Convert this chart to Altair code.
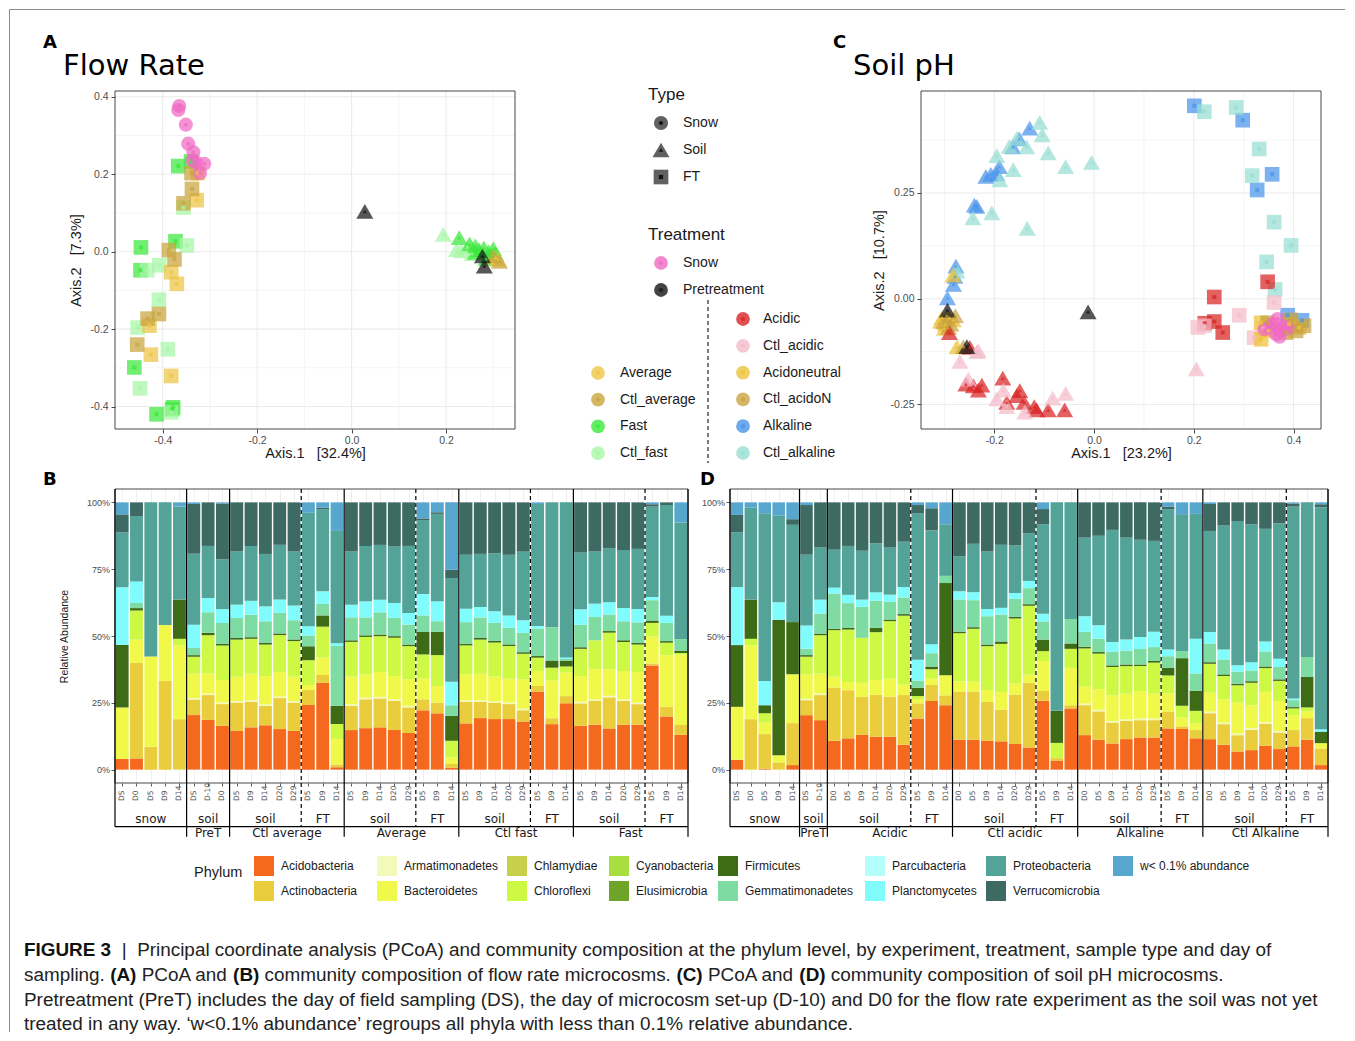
import altair as alt
import pandas as pd

# ------------------------------------------------------------------ phyla
PHYLA = ["Acidobacteria", "Actinobacteria", "Armatimonadetes", "Bacteroidetes", "Chlamydiae",
         "Chloroflexi", "Cyanobacteria", "Elusimicrobia", "Firmicutes", "Gemmatimonadetes",
         "Parcubacteria", "Planctomycetes", "Proteobacteria", "Verrucomicrobia", "w< 0.1% abundance"]
PHYLA_COLORS = ["#F4691E", "#EACD3C", "#F3F9B8", "#F0F84A", "#C7D04B",
                "#CDF844", "#A9DE40", "#6EA42A", "#3D6B16", "#7EDCA2",
                "#B3FDFB", "#80FCFD", "#53A398", "#3E6A64", "#56A6CE"]

# ------------------------------------------------------------------ panel B (flow rate)
B_DAYS = ["DS", "D0", "D5", "D9", "D14", "DS", "D-10", "D0",
          "D5", "D9", "D14", "D20", "D29", "D5", "D9", "D14",
          "D5", "D9", "D14", "D20", "D29", "D5", "D9", "D14",
          "D5", "D9", "D14", "D20", "D29", "D5", "D9", "D14",
          "D5", "D9", "D14", "D20", "D29", "D5", "D9", "D14"]
B_TYPE = ["snow"] * 5 + ["soil"] * 3 + (["soil"] * 5 + ["FT"] * 3) * 4
B_TREAT = [""] * 5 + ["PreT"] * 3 + ["Ctl average"] * 8 + ["Average"] * 8 + ["Ctl fast"] * 8 + ["Fast"] * 8

B_ACIDO = [4.0, 4.2, 0, 0, 0, 20.4, 18.6, 16.4,
           14.5, 15.8, 16.6, 15.2, 14.5, 24.2, 32.5, 0.9,
           14.8, 15.5, 15.8, 14.8, 13.7, 22.2, 21.1, 0.7,
           17.3, 19.3, 18.9, 18.9, 18.0, 29.2, 17.0, 24.8,
           16.4, 16.8, 15.4, 16.8, 16.8, 39.0, 19.9, 13.0]
B_ACTINO = [0, 35.8, 8.6, 33.2, 18.9, 5.8, 9.3, 8.1,
            10.6, 9.6, 7.2, 11.6, 10.6, 5.6, 2.9, 1.0,
            9.1, 10.8, 10.8, 10.9, 9.6, 4.1, 4.0, 1.4,
            8.1, 6.1, 6.0, 5.6, 4.2, 2.1, 2.2, 2.7,
            8.4, 8.9, 11.6, 8.9, 7.7, 0.7, 3.6, 3.7]
B_ARMAT = [0, 0, 0, 0, 0, 0.6, 0.6, 0.6,
           0.6, 0.6, 0.6, 0.6, 0.6, 0, 0, 0,
           0.6, 0.6, 0.6, 0.6, 0.6, 0, 0, 0,
           0.6, 0.6, 0.6, 0.6, 0.6, 0, 0, 0,
           0.6, 0.6, 0.6, 0.6, 0.6, 0, 0, 0]
B_BACTERO = [19.3, 8.7, 33.7, 20.9, 27.7, 9.1, 7.5, 8.4,
             9.1, 9.9, 10.6, 9.2, 9.1, 1.9, 6.5, 9.6,
             10.3, 8.7, 9.3, 8.7, 9.9, 7.7, 6.2, 2.5,
             9.7, 9.9, 9.3, 8.9, 10.9, 5.6, 14.2, 8.9,
             9.6, 11.4, 9.9, 10.6, 11.4, 10.2, 19.3, 26.3]
B_CHLORO = [0, 10.9, 0, 0, 2.4, 6.3, 14.3, 12.9,
            13.9, 13.0, 11.8, 13.8, 13.3, 9.3, 11.6, 5.6,
            13.0, 14.0, 13.4, 14.3, 12.4, 9.1, 11.6, 6.2,
            10.8, 12.8, 12.7, 12.2, 9.6, 5.0, 4.7, 2.2,
            10.2, 10.7, 13.7, 10.9, 10.3, 5.0, 4.7, 0.6]
B_FIRMI = [23.4, 0.9, 0, 0, 14.7, 0.6, 0.9, 0.6,
           0.6, 0.6, 0.6, 0.6, 0.6, 5.2, 4.2, 6.8,
           0.6, 0.6, 0.6, 0.6, 0.6, 8.4, 8.7, 9.3,
           0.6, 0.6, 0.6, 0.6, 0.6, 0.6, 2.7, 2.2,
           0.6, 0, 0.6, 0.6, 0.6, 0.9, 0.6, 0.9]
B_GEMMA = [0, 1.9, 0, 0, 0, 2.7, 7.7, 7.8,
           7.5, 8.4, 8.1, 7.7, 7.2, 4.0, 4.3, 22.4,
           8.6, 6.7, 8.3, 6.8, 7.5, 6.2, 4.0, 4.0,
           8.1, 7.7, 6.8, 6.2, 7.2, 10.3, 12.4, 0.6,
           8.4, 8.7, 6.2, 7.1, 7.7, 7.6, 6.8, 4.3]
B_PLANCTO = [21.6, 8.1, 0, 0, 0, 8.7, 5.3, 5.2,
             5.0, 5.2, 5.6, 5.0, 5.5, 3.5, 4.7, 1.0,
             4.7, 6.0, 4.7, 5.6, 4.3, 8.0, 7.5, 8.8,
             5.0, 3.9, 4.3, 4.6, 4.7, 0.9, 0, 0.6,
             5.8, 5.0, 4.6, 5.0, 5.0, 1.2, 2.7, 0]
B_PROTEO = [20.6, 24.5, 57.7, 45.9, 34.8, 26.5, 19.5, 18.6,
            19.9, 20.5, 19.6, 20.5, 20.2, 42.5, 30.7, 42.1,
            19.9, 20.7, 20.5, 21.1, 25.1, 27.7, 32.7, 38.8,
            20.2, 19.9, 21.7, 22.7, 25.7, 45.7, 46.7, 58.0,
            21.2, 19.5, 20.2, 21.7, 22.5, 33.8, 41.4, 43.6]
B_VERRUCO = [6.7, 5.1, 0, 0, 0, 18.6, 16.3, 20.9,
             18.4, 16.3, 19.3, 15.9, 18.4, 0, 0.6, 0,
             18.4, 16.3, 15.9, 16.5, 16.3, 0.6, 0.6, 3.1,
             19.6, 19.3, 19.0, 19.6, 18.4, 0, 0, 0,
             18.8, 18.4, 17.1, 17.8, 17.4, 0.9, 1.0, 0]
B_OTHER = [4.5, 0, 0, 0, 1.6, 0.6, 0, 0.4,
           0, 0, 0, 0, 0, 3.9, 2.0, 10.7,
           0, 0, 0, 0, 0, 6.0, 3.7, 25.2,
           0, 0, 0, 0, 0, 0.6, 0, 0,
           0, 0, 0, 0, 0, 0.7, 0, 7.5]

# ------------------------------------------------------------------ panel D (soil pH)
D_DAYS = ["DS", "D0", "D5", "D9", "D14", "DS", "D-10"] + \
         ["D0", "D5", "D9", "D14", "D20", "D29", "D5", "D9", "D14"] * 4
D_TYPE = ["snow"] * 5 + ["soil"] * 2 + (["soil"] * 6 + ["FT"] * 3) * 4
D_TREAT = [""] * 5 + ["PreT"] * 2 + ["Acidic"] * 9 + ["Ctl acidic"] * 9 + ["Alkaline"] * 9 + ["Ctl Alkaline"] * 9

D_ACIDO = [3.7, 0, 0.3, 0, 1.7, 20.4, 18.5,
           10.8, 11.7, 13.0, 12.3, 12.3, 9.3, 19.1, 25.7, 24.1,
           11.2, 11.2, 10.8, 10.6, 9.6, 8.3, 25.7, 3.4, 22.9,
           12.9, 11.2, 9.8, 11.4, 12.0, 12.0, 15.4, 15.2, 11.7,
           11.4, 9.3, 6.8, 7.3, 8.9, 7.7, 8.7, 11.2, 1.7]
D_ACTINO = [0, 18.9, 13.0, 2.7, 15.7, 5.6, 9.4,
            19.9, 18.0, 14.2, 15.7, 15.0, 18.6, 5.7, 6.0, 3.7,
            17.9, 18.0, 14.5, 11.8, 18.4, 24.2, 3.7, 0.9, 1.2,
            11.2, 10.6, 7.8, 6.8, 6.5, 6.5, 6.3, 1.0, 3.1,
            9.7, 7.7, 6.1, 7.6, 8.3, 6.2, 6.1, 8.1, 6.2]
D_ARMAT = [0, 0, 0, 0, 0, 0.6, 0.6,
           0, 0, 0, 0, 0, 0, 0, 0, 0,
           0, 0, 0, 0, 0, 0, 0, 0, 0,
           0.6, 0.6, 0.6, 0.6, 0.6, 0.6, 0, 0, 0,
           0.6, 0.6, 0.6, 0.6, 0.6, 0.6, 0, 0, 0]
D_BACTERO = [19.8, 27.7, 4.3, 2.7, 18.3, 9.1, 7.5,
             4.1, 3.1, 5.3, 5.6, 6.7, 4.0, 1.5, 2.5, 7.5,
             3.9, 3.7, 4.5, 6.7, 4.2, 3.1, 11.2, 0, 14.0,
             6.3, 7.7, 9.6, 9.6, 10.3, 9.3, 6.8, 3.4, 2.6,
             7.1, 8.7, 11.6, 8.6, 11.3, 11.2, 5.6, 2.5, 2.0]
D_CHLORO = [0, 2.4, 3.5, 0, 0, 6.6, 14.3,
            17.4, 19.6, 16.8, 17.9, 21.5, 25.7, 1.2, 3.4, 0,
            18.0, 19.8, 16.4, 18.0, 24.3, 25.7, 3.7, 5.7, 7.1,
            14.3, 13.3, 10.6, 10.3, 9.3, 11.6, 6.7, 4.3, 4.6,
            10.8, 8.7, 6.5, 8.4, 8.9, 7.5, 2.5, 1.5, 0]
D_FIRMI = [23.1, 14.7, 3.0, 50.7, 19.5, 0.6, 0.6,
           0.5, 0.6, 0, 1.6, 0.6, 0.6, 3.1, 1.0, 34.5,
           0.6, 0.6, 0.6, 0.9, 0.6, 0.6, 4.3, 12.0, 2.0,
           0.6, 0.6, 0.6, 0.6, 0.6, 0.6, 2.9, 17.8, 7.5,
           0.6, 0.6, 0.6, 0.6, 0.6, 0.6, 0.5, 11.4, 4.3]
D_GEMMA = [0, 0, 0, 0, 0, 2.4, 7.5,
           13.2, 9.3, 11.6, 10.2, 6.6, 6.2, 2.7, 5.0, 2.7,
           12.0, 10.1, 10.6, 10.1, 6.7, 6.0, 6.8, 0, 9.2,
           5.6, 5.0, 5.1, 5.2, 5.8, 5.2, 4.3, 2.7, 6.5,
           7.0, 5.6, 4.5, 4.0, 5.6, 4.6, 2.6, 7.5, 0]
D_PLANCTO = [21.7, 0, 9.1, 6.5, 0, 8.7, 5.2,
             2.2, 3.1, 2.7, 3.1, 2.7, 3.9, 7.8, 3.4, 0,
             3.1, 3.0, 2.7, 2.5, 2.2, 2.7, 2.9, 0, 0,
             5.8, 5.0, 3.7, 4.1, 4.5, 5.7, 2.5, 0, 13.0,
             4.3, 3.7, 2.4, 3.1, 3.7, 3.1, 0.6, 0, 0.9]
D_PROTEO = [20.5, 34.4, 62.7, 32.4, 36.4, 26.5, 19.5,
            14.2, 18.3, 18.3, 18.4, 17.6, 17.0, 54.7, 42.6, 19.3,
            13.0, 18.1, 21.5, 23.6, 17.8, 17.8, 33.4, 78.0, 43.6,
            29.4, 33.5, 41.9, 38.1, 36.3, 34.0, 52.4, 50.9, 46.7,
            37.8, 46.3, 54.0, 51.6, 42.2, 50.7, 71.8, 57.9, 83.0]
D_VERRUCO = [6.5, 0, 0, 0, 2.1, 18.6, 16.9,
             17.7, 16.3, 18.1, 15.3, 16.9, 14.7, 3.1, 8.3, 0,
             20.2, 15.5, 18.4, 15.9, 16.1, 11.6, 5.7, 0, 0,
             13.2, 12.5, 10.3, 13.2, 14.0, 14.4, 1.0, 0, 0,
             10.1, 8.7, 7.0, 8.2, 9.9, 7.8, 1.2, 0, 1.1]
D_OTHER = [4.7, 2.0, 4.1, 5.0, 6.3, 1.0, 0,
           0, 0, 0, 0, 0, 0, 1.0, 2.2, 8.2,
           0, 0, 0, 0, 0, 0, 2.5, 0, 0,
           0, 0, 0, 0, 0, 0, 1.6, 4.7, 4.3,
           0.6, 0, 0, 0, 0, 0, 0.4, 0, 0.7]

# ------------------------------------------------------------------ PCoA treatments
TREATMENTS = ["Snow", "Pretreatment", "Average", "Ctl_average", "Fast", "Ctl_fast",
              "Acidic", "Ctl_acidic", "Acidoneutral", "Ctl_acidoN", "Alkaline", "Ctl_alkaline"]
TREAT_COLORS = ["#F06AC4", "#151515", "#EEC545", "#C9A53E", "#3BE83B", "#A6F7A6",
                "#DA2424", "#F4BCCB", "#EEC238", "#C9A440", "#4A94EA", "#97DED2"]
TYPES = ["Snow", "Soil", "FT"]

# panel A points
A_SNOW_X = [-0.365, -0.367, -0.351, -0.346, -0.335, -0.330, -0.312, -0.321, -0.337]
A_SNOW_Y = [0.376, 0.366, 0.328, 0.279, 0.257, 0.231, 0.227, 0.203, 0.236]
A_PRET_X = [0.028, 0.277, 0.281]
A_PRET_Y = [0.104, -0.011, -0.037]
A_FT_FAST_X = [-0.367, -0.340, -0.446, -0.447, -0.373, -0.460, -0.413, -0.380, -0.378]
A_FT_FAST_Y = [0.221, 0.233, 0.011, -0.048, 0.027, -0.299, -0.420, -0.407, -0.402]
A_FT_CTLFAST_X = [-0.356, -0.349, -0.433, -0.407, -0.408, -0.453, -0.389, -0.448, -0.382]
A_FT_CTLFAST_Y = [0.114, 0.016, -0.048, -0.035, -0.124, -0.196, -0.252, -0.353, -0.415]
A_FT_AVG_X = [-0.328, -0.382, -0.370, -0.428, -0.425, -0.382, -0.326]
A_FT_AVG_Y = [0.133, -0.053, -0.083, -0.191, -0.266, -0.321, 0.203]
A_FT_CTLAVG_X = [-0.338, -0.356, -0.387, -0.375, -0.432, -0.408, -0.454, -0.339]
A_FT_CTLAVG_Y = [0.162, 0.125, 0.004, -0.020, -0.173, -0.161, -0.240, 0.203]
A_SOIL_CTLFAST_X = [0.194, 0.222, 0.232, 0.245, 0.255]
A_SOIL_CTLFAST_Y = [0.045, 0.005, 0.002, 0.012, -0.005]
A_SOIL_FAST_X = [0.228, 0.250, 0.262, 0.270, 0.280, 0.290, 0.300, 0.295, 0.305, 0.262, 0.285]
A_SOIL_FAST_Y = [0.036, 0.020, 0.015, 0.005, 0.010, 0.000, 0.008, -0.012, -0.005, -0.002, -0.018]
A_SOIL_AVG_X = [0.311, 0.305]
A_SOIL_AVG_Y = [-0.020, -0.015]
A_SOIL_CTLAVG_X = [0.313, 0.300]
A_SOIL_CTLAVG_Y = [-0.025, -0.010]

# panel C points
C_SNOW_X = [0.342, 0.358, 0.368, 0.375, 0.380, 0.365, 0.388, 0.352, 0.372]
C_SNOW_Y = [-0.072, -0.060, -0.048, -0.076, -0.066, -0.084, -0.070, -0.068, -0.090]
C_PRET_X = [-0.012, -0.294, -0.255]
C_PRET_Y = [-0.031, -0.027, -0.113]
C_FT_ALK_X = [0.201, 0.298, 0.357, 0.327, 0.388, 0.417]
C_FT_ALK_Y = [0.456, 0.422, 0.294, 0.257, -0.039, -0.051]
C_FT_CTLALK_X = [0.221, 0.285, 0.331, 0.317, 0.361, 0.395, 0.346, 0.363]
C_FT_CTLALK_Y = [0.442, 0.452, 0.354, 0.291, 0.181, 0.126, 0.087, 0.022]
C_FT_ACID_X = [0.348, 0.241, 0.241, 0.258, 0.222]
C_FT_ACID_Y = [0.040, 0.004, -0.054, -0.080, -0.058]
C_FT_CTLACID_X = [0.361, 0.291, 0.208, 0.221, 0.321, 0.340]
C_FT_CTLACID_Y = [-0.009, -0.039, -0.068, -0.064, -0.092, -0.070]
C_FT_NEUT_X = [0.335, 0.335, 0.391, 0.411, 0.350]
C_FT_NEUT_Y = [-0.057, -0.096, -0.060, -0.068, -0.075]
C_FT_CTLNEUT_X = [0.348, 0.405, 0.385, 0.421, 0.395]
C_FT_CTLNEUT_Y = [-0.057, -0.076, -0.080, -0.064, -0.050]
C_SOIL_ALK_X = [-0.277, -0.279, -0.282, -0.294, -0.240, -0.235, -0.217, -0.207, -0.190, -0.195, -0.163, -0.150, -0.129]
C_SOIL_ALK_Y = [0.077, 0.053, 0.034, 0.002, 0.221, 0.218, 0.289, 0.294, 0.312, 0.295, 0.359, 0.378, 0.403]
C_SOIL_CTLALK_X = [-0.109, -0.104, -0.092, -0.057, -0.005, -0.135, -0.162, -0.189, -0.195, -0.205, -0.243, -0.134, -0.155, -0.170, -0.275]
C_SOIL_CTLALK_Y = [0.417, 0.387, 0.345, 0.312, 0.322, 0.359, 0.305, 0.281, 0.338, 0.203, 0.191, 0.166, 0.379, 0.360, 0.065]
C_SOIL_NEUT_X = [-0.283, -0.305, -0.298, -0.308, -0.290, -0.282, -0.275, -0.300]
C_SOIL_NEUT_Y = [0.056, -0.045, -0.060, -0.053, -0.045, -0.050, -0.114, -0.070]
C_SOIL_CTLNEUT_X = [-0.295, -0.302, -0.287, -0.278, -0.292, -0.262]
C_SOIL_CTLNEUT_Y = [-0.040, -0.055, -0.060, -0.040, -0.068, -0.113]
C_SOIL_ACID_X = [-0.290, -0.249, -0.257, -0.242, -0.225, -0.232, -0.183, -0.149, -0.155, -0.175, -0.115, -0.092, -0.059, -0.140, -0.120]
C_SOIL_ACID_Y = [-0.080, -0.115, -0.202, -0.206, -0.204, -0.216, -0.188, -0.217, -0.229, -0.245, -0.263, -0.263, -0.263, -0.245, -0.255]
C_SOIL_CTLACID_X = [-0.232, -0.269, -0.252, -0.182, -0.195, -0.175, -0.139, -0.083, -0.057, 0.205, -0.235]
C_SOIL_CTLACID_Y = [-0.123, -0.148, -0.190, -0.216, -0.237, -0.255, -0.268, -0.235, -0.224, -0.166, -0.125]

# ------------------------------------------------------------------ caption text
CAP_LINES = [
    [("FIGURE 3", True), ("  |  ", False),
     ("Principal coordinate analysis (PCoA) and community composition at the phylum level, by experiment, "
      "treatment, sample type and day of", False)],
    [("sampling. ", False), ("(A)", True), (" PCoA and ", False), ("(B)", True),
     (" community composition of flow rate microcosms. ", False), ("(C)", True), (" PCoA and ", False),
     ("(D)", True), (" community composition of soil pH microcosms.", False)],
    [("Pretreatment (PreT) includes the day of field sampling (DS), the day of microcosm set-up (D-10) "
      "and D0 for the flow rate experiment as the soil was not yet", False)],
    [("treated in any way. \u2018w<0.1% abundance\u2019 regroups all phyla with less than 0.1% relative abundance.", False)],
]

# ================================================================== layout / style (not data)
ROW1_W, ROW1_H = 1206, 338
ROW2_W, ROW2_H = 1213, 294
ROW3_W, ROW3_H = 1100, 60
GRAY_TXT = "#4D4D4D"
PCOL = dict(zip(PHYLA, PHYLA_COLORS))
TCOL = dict(zip(TREATMENTS, TREAT_COLORS))
SHAPE = {"Snow": "circle", "Soil": "triangle-up", "FT": "square"}
SIZE = {"Snow": 200, "Soil": 290, "FT": 215}
MINUS = "\u2212"


def lab_expr(fmt):
    return f"replace(format(datum.value, '{fmt}'), '{MINUS}', '-')"


def pts_df(groups):
    rows = []
    for typ, trt, xs, ys in groups:
        assert len(xs) == len(ys)
        for x, y in zip(xs, ys):
            rows.append({"x": x, "y": y, "shape": SHAPE[typ], "size": SIZE[typ], "col": TCOL[trt]})
    return pd.DataFrame(rows)


def pcoa(groups, xdom, ydom, xt, yt, xminor, yminor, xfmt, yfmt, xtitle, ytitle, x0, w, ytpad):
    xs = alt.Scale(domain=xdom, range=[x0, x0 + w], nice=False, zero=False)
    ys = alt.Scale(domain=ydom, range=[ROW1_H, 0], nice=False, zero=False)
    df = pts_df(groups)

    def vrules(vals, sw):
        d = pd.DataFrame({"v": vals, "a": [ydom[0]] * len(vals), "b": [ydom[1]] * len(vals)})
        return alt.Chart(d).mark_rule(color="#EBEBEB", strokeWidth=sw).encode(
            x=alt.X("v:Q", scale=xs, axis=None), y=alt.Y("a:Q", scale=ys, axis=None), y2="b:Q")

    def hrules(vals, sw):
        d = pd.DataFrame({"v": vals, "a": [xdom[0]] * len(vals), "b": [xdom[1]] * len(vals)})
        return alt.Chart(d).mark_rule(color="#EBEBEB", strokeWidth=sw).encode(
            y=alt.Y("v:Q", scale=ys, axis=None), x=alt.X("a:Q", scale=xs, axis=None), x2="b:Q")

    xaxis = alt.Axis(orient="bottom", values=xt, labelExpr=lab_expr(xfmt), grid=False, domain=False,
                     tickColor="#333333", tickSize=4, tickWidth=0.9, labelFontSize=10.5, labelColor=GRAY_TXT,
                     labelPadding=2, title=xtitle, titleFontSize=14.5, titleFontWeight="normal",
                     titleColor="#1A1A1A", titlePadding=1)
    yaxis = alt.Axis(orient="left", offset=-x0, values=yt, labelExpr=lab_expr(yfmt), grid=False, domain=False,
                     tickColor="#333333", tickSize=4, tickWidth=0.9, labelFontSize=10.5, labelColor=GRAY_TXT,
                     labelPadding=3, title=ytitle, titleFontSize=14.5, titleFontWeight="normal",
                     titleColor="#1A1A1A", titlePadding=ytpad)
    pts = alt.Chart(df).mark_point(filled=True, opacity=0.72, strokeWidth=0).encode(
        x=alt.X("x:Q", scale=xs, axis=xaxis), y=alt.Y("y:Q", scale=ys, axis=yaxis),
        shape=alt.Shape("shape:N", scale=None), color=alt.Color("col:N", scale=None),
        size=alt.Size("size:Q", scale=None))
    dots = alt.Chart(df).mark_point(filled=True, opacity=0.75, strokeWidth=0, size=16).encode(
        x=alt.X("x:Q", scale=xs, axis=None), y=alt.Y("y:Q", scale=ys, axis=None),
        shape=alt.Shape("shape:N", scale=None), color=alt.Color("col:N", scale=None))
    box = alt.Chart(pd.DataFrame({"a": [xdom[0]], "b": [xdom[1]], "c": [ydom[0]], "d": [ydom[1]]})).mark_rect(
        fillOpacity=0, stroke="#333333", strokeWidth=0.9).encode(
        x=alt.X("a:Q", scale=xs, axis=None), x2="b:Q", y=alt.Y("c:Q", scale=ys, axis=None), y2="d:Q")
    return [vrules(xminor, 0.55), hrules(yminor, 0.55), vrules(xt, 1.1), hrules(yt, 1.1), pts, dots, box]


A_GROUPS = [("FT", "Fast", A_FT_FAST_X, A_FT_FAST_Y), ("FT", "Ctl_fast", A_FT_CTLFAST_X, A_FT_CTLFAST_Y),
            ("FT", "Average", A_FT_AVG_X, A_FT_AVG_Y), ("FT", "Ctl_average", A_FT_CTLAVG_X, A_FT_CTLAVG_Y),
            ("Soil", "Ctl_fast", A_SOIL_CTLFAST_X, A_SOIL_CTLFAST_Y), ("Soil", "Fast", A_SOIL_FAST_X, A_SOIL_FAST_Y),
            ("Soil", "Average", A_SOIL_AVG_X, A_SOIL_AVG_Y), ("Soil", "Ctl_average", A_SOIL_CTLAVG_X, A_SOIL_CTLAVG_Y),
            ("Snow", "Snow", A_SNOW_X, A_SNOW_Y), ("Soil", "Pretreatment", A_PRET_X, A_PRET_Y)]
C_GROUPS = [("FT", "Alkaline", C_FT_ALK_X, C_FT_ALK_Y), ("FT", "Ctl_alkaline", C_FT_CTLALK_X, C_FT_CTLALK_Y),
            ("FT", "Acidic", C_FT_ACID_X, C_FT_ACID_Y), ("FT", "Ctl_acidic", C_FT_CTLACID_X, C_FT_CTLACID_Y),
            ("FT", "Acidoneutral", C_FT_NEUT_X, C_FT_NEUT_Y), ("FT", "Ctl_acidoN", C_FT_CTLNEUT_X, C_FT_CTLNEUT_Y),
            ("Soil", "Alkaline", C_SOIL_ALK_X, C_SOIL_ALK_Y), ("Soil", "Ctl_alkaline", C_SOIL_CTLALK_X, C_SOIL_CTLALK_Y),
            ("Soil", "Acidoneutral", C_SOIL_NEUT_X, C_SOIL_NEUT_Y), ("Soil", "Ctl_acidoN", C_SOIL_CTLNEUT_X, C_SOIL_CTLNEUT_Y),
            ("Soil", "Acidic", C_SOIL_ACID_X, C_SOIL_ACID_Y), ("Soil", "Ctl_acidic", C_SOIL_CTLACID_X, C_SOIL_CTLACID_Y),
            ("Snow", "Snow", C_SNOW_X, C_SNOW_Y), ("Soil", "Pretreatment", C_PRET_X, C_PRET_Y)]

NB = "\u00a0"
layers_a = pcoa(A_GROUPS, [-0.501, 0.346], [-0.458, 0.415], [-0.4, -0.2, 0.0, 0.2], [-0.4, -0.2, 0.0, 0.2, 0.4],
                [-0.3, -0.1, 0.1, 0.3], [-0.3, -0.1, 0.1, 0.3], ".1f", ".1f",
                f"Axis.1{NB*3}[32.4%]", f"Axis.2{NB*3}[7.3%]", 0, 400, 6)
layers_c = pcoa(C_GROUPS, [-0.347, 0.455], [-0.308, 0.491], [-0.2, 0.0, 0.2, 0.4], [-0.25, 0.0, 0.25],
                [-0.3, -0.1, 0.1, 0.3], [-0.125, 0.125, 0.375], ".1f", ".2f",
                f"Axis.1{NB*3}[23.2%]", f"Axis.2{NB*3}[10.7%]", 806, 400, 4)

# ---------------- row-1 legend / titles (identity pixel scales)
LX = alt.Scale(domain=[0, ROW1_W], range=[0, ROW1_W], nice=False, zero=False)
LY = alt.Scale(domain=[0, ROW1_H], range=[0, ROW1_H], nice=False, zero=False)


def ltext(df, **kw):
    return alt.Chart(df).mark_text(**kw).encode(
        x=alt.X("px:Q", scale=LX, axis=None), y=alt.Y("py:Q", scale=LY, axis=None), text="t:N")


leg_titles = pd.DataFrame({"t": ["Type", "Treatment"], "px": [533, 533], "py": [9, 149]})
sym_rows, lab_rows = [], []
for i, t in enumerate(TYPES):
    sym_rows.append({"px": 546, "py": 32 + 27 * i, "shape": SHAPE[t], "size": SIZE[t], "col": "#3A3A3A", "dot": "#000000"})
    lab_rows.append({"px": 568, "py": 32 + 27 * i, "t": t})
TR_TOP = TREATMENTS[:2]
TR_LEFT = TREATMENTS[2:6]
TR_RIGHT = TREATMENTS[6:]
for i, t in enumerate(TR_TOP):
    sym_rows.append({"px": 546, "py": 172 + 27 * i, "shape": "circle", "size": 190, "col": TCOL[t], "dot": TCOL[t]})
    lab_rows.append({"px": 568, "py": 172 + 27 * i, "t": t})
for i, t in enumerate(TR_LEFT):
    sym_rows.append({"px": 483, "py": 282 + 26.7 * i, "shape": "circle", "size": 190, "col": TCOL[t], "dot": TCOL[t]})
    lab_rows.append({"px": 505, "py": 282 + 26.7 * i, "t": t})
for i, t in enumerate(TR_RIGHT):
    sym_rows.append({"px": 628, "py": 228 + 26.8 * i, "shape": "circle", "size": 190, "col": TCOL[t], "dot": TCOL[t]})
    lab_rows.append({"px": 648, "py": 228 + 26.8 * i, "t": t})
sym_df = pd.DataFrame(sym_rows)
lab_df = pd.DataFrame(lab_rows)

leg_syms = alt.Chart(sym_df).mark_point(filled=True, opacity=0.8, strokeWidth=0).encode(
    x=alt.X("px:Q", scale=LX, axis=None), y=alt.Y("py:Q", scale=LY, axis=None),
    shape=alt.Shape("shape:N", scale=None), color=alt.Color("col:N", scale=None), size=alt.Size("size:Q", scale=None))
leg_dots = alt.Chart(sym_df).mark_point(filled=True, opacity=0.8, strokeWidth=0, size=18).encode(
    x=alt.X("px:Q", scale=LX, axis=None), y=alt.Y("py:Q", scale=LY, axis=None),
    shape=alt.Shape("shape:N", scale=None), color=alt.Color("dot:N", scale=None))
leg_dash = alt.Chart(pd.DataFrame({"px": [593], "a": [209], "b": [372]})).mark_rule(
    color="#222222", strokeWidth=1.2, strokeDash=[4, 3]).encode(
    x=alt.X("px:Q", scale=LX, axis=None), y=alt.Y("a:Q", scale=LY, axis=None), y2="b:Q")
letters1 = pd.DataFrame({"t": ["A", "C"], "px": [-72, 718], "py": [-43, -43]})
titles1 = pd.DataFrame({"t": ["Flow Rate", "Soil pH"], "px": [-52, 738], "py": [-16, -16]})

layers_leg = [
    leg_syms, leg_dots, leg_dash,
    ltext(leg_titles, align="left", baseline="alphabetic", fontSize=17, font="Liberation Sans", color="#1A1A1A"),
    ltext(lab_df, align="left", baseline="middle", fontSize=14, font="Liberation Sans", color="#1A1A1A"),
    ltext(letters1, align="left", baseline="alphabetic", fontSize=18, fontWeight="bold", font="DejaVu Sans", color="black"),
    ltext(titles1, align="left", baseline="alphabetic", fontSize=29, font="DejaVu Sans", color="black"),
]

row1 = alt.layer(*layers_a, *layers_c, *layers_leg).resolve_scale(x="independent", y="independent").properties(
    width=ROW1_W, height=ROW1_H)

# ---------------- row 2: stacked bars
Y_DAYLAB = -0.117
Y_STRIP1 = -0.185
Y_STRIP1_BOTTOM = -0.2135
Y_STRIP2 = -0.237
Y_STRIP2_BOTTOM = -0.251


def bars_panel(days, types, treats, vals, x0, w, letter, letter_x, ytitle):
    n = len(days)
    for p, v in vals.items():
        assert len(v) == n, (p, len(v), n)
    assert len(types) == n and len(treats) == n
    xs = alt.Scale(domain=[-0.5, n - 0.5], range=[x0, x0 + w], nice=False, zero=False)
    ys = alt.Scale(domain=[-0.05, 1.05], range=[ROW2_H, 0], nice=False, zero=False)
    rows = []
    for i in range(n):
        tot = sum(vals[p][i] for p in vals)
        cum = 0.0
        for p in PHYLA:
            if p in vals and vals[p][i] > 0:
                v = vals[p][i]
                rows.append({"x0": i - 0.45, "x1": i + 0.45, "y0": cum / tot, "y1": (cum + v) / tot, "col": PCOL[p]})
                cum += v
    df = pd.DataFrame(rows)
    xaxis = alt.Axis(orient="bottom", values=list(range(n)), labels=False, ticks=True, tickSize=3,
                     tickColor="#333333", tickWidth=0.8, grid=True, gridColor="#EBEBEB", gridWidth=0.8,
                     domain=False, title=None)
    yaxis = alt.Axis(orient="left", offset=-x0, values=[0, 0.25, 0.5, 0.75, 1.0], format=".0%",
                     labelFontSize=9, labelColor=GRAY_TXT, labelPadding=1.5, tickSize=4, tickColor="#333333",
                     tickWidth=0.8, grid=False, domain=False, title=ytitle, titleFontSize=10.5,
                     titleFontWeight="normal", titleColor="#1A1A1A", titlePadding=17)
    bars = alt.Chart(df).mark_rect().encode(
        x=alt.X("x0:Q", scale=xs, axis=xaxis), x2="x1:Q",
        y=alt.Y("y0:Q", scale=ys, axis=yaxis), y2="y1:Q", color=alt.Color("col:N", scale=None))
    box = alt.Chart(pd.DataFrame({"a": [-0.5], "b": [n - 0.5], "c": [-0.05], "d": [1.05]})).mark_rect(
        fillOpacity=0, stroke="#333333", strokeWidth=0.9).encode(
        x=alt.X("a:Q", scale=xs, axis=None), x2="b:Q", y=alt.Y("c:Q", scale=ys, axis=None), y2="d:Q")

    solid, dashed = [], []
    for i in range(1, n):
        if treats[i] != treats[i - 1]:
            solid.append(i - 0.5)
        elif types[i] != types[i - 1]:
            dashed.append(i - 0.5)
    sx = [-0.5] + solid + [n - 0.5]
    sdf = pd.DataFrame({"x": sx, "a": [1.05] * len(sx), "b": [Y_STRIP1_BOTTOM] + [Y_STRIP2_BOTTOM] * (len(sx) - 1)})
    ddf = pd.DataFrame({"x": dashed, "a": [1.05] * len(dashed), "b": [Y_STRIP1_BOTTOM] * len(dashed)})
    srules = alt.Chart(sdf).mark_rule(color="black", strokeWidth=1.2).encode(
        x=alt.X("x:Q", scale=xs, axis=None), y=alt.Y("a:Q", scale=ys, axis=None), y2="b:Q")
    drules = alt.Chart(ddf).mark_rule(color="black", strokeWidth=1.2, strokeDash=[4, 3]).encode(
        x=alt.X("x:Q", scale=xs, axis=None), y=alt.Y("a:Q", scale=ys, axis=None), y2="b:Q")
    hrule = alt.Chart(pd.DataFrame({"a": [-0.5], "b": [n - 0.5], "y": [Y_STRIP1_BOTTOM]})).mark_rule(
        color="black", strokeWidth=1.2).encode(
        x=alt.X("a:Q", scale=xs, axis=None), x2="b:Q", y=alt.Y("y:Q", scale=ys, axis=None))

    day_df = pd.DataFrame({"x": list(range(n)), "y": [Y_DAYLAB] * n, "t": days})
    day_txt = alt.Chart(day_df).mark_text(angle=270, align="left", baseline="middle", fontSize=7.5,
                                          font="DejaVu Sans", color=GRAY_TXT).encode(
        x=alt.X("x:Q", scale=xs, axis=None), y=alt.Y("y:Q", scale=ys, axis=None), text="t:N")

    r1, r2 = [], []
    start = 0
    for i in range(1, n + 1):
        if i == n or (types[i], treats[i]) != (types[start], treats[start]):
            r1.append({"x": (start + i - 1) / 2, "y": Y_STRIP1, "t": types[start]})
            start = i
    start = 0
    for i in range(1, n + 1):
        if i == n or treats[i] != treats[start]:
            if treats[start]:
                r2.append({"x": (start + i - 1) / 2, "y": Y_STRIP2, "t": treats[start]})
            start = i
    strip1 = alt.Chart(pd.DataFrame(r1)).mark_text(fontSize=12, font="DejaVu Sans", color="#1A1A1A",
                                                   baseline="middle").encode(
        x=alt.X("x:Q", scale=xs, axis=None), y=alt.Y("y:Q", scale=ys, axis=None), text="t:N")
    strip2 = alt.Chart(pd.DataFrame(r2)).mark_text(fontSize=12, font="DejaVu Sans", color="#1A1A1A",
                                                   baseline="middle").encode(
        x=alt.X("x:Q", scale=xs, axis=None), y=alt.Y("y:Q", scale=ys, axis=None), text="t:N")
    let = alt.Chart(pd.DataFrame({"t": [letter]})).mark_text(
        align="left", baseline="alphabetic", fontSize=18, fontWeight="bold", font="DejaVu Sans", color="black").encode(
        x=alt.value(letter_x), y=alt.value(-4), text="t:N")
    return [bars, box, srules, drules, hrule, day_txt, strip1, strip2, let]


B_VALS = {"Acidobacteria": B_ACIDO, "Actinobacteria": B_ACTINO, "Armatimonadetes": B_ARMAT,
          "Bacteroidetes": B_BACTERO, "Chloroflexi": B_CHLORO, "Firmicutes": B_FIRMI,
          "Gemmatimonadetes": B_GEMMA, "Planctomycetes": B_PLANCTO, "Proteobacteria": B_PROTEO,
          "Verrucomicrobia": B_VERRUCO, "w< 0.1% abundance": B_OTHER}
D_VALS = {"Acidobacteria": D_ACIDO, "Actinobacteria": D_ACTINO, "Armatimonadetes": D_ARMAT,
          "Bacteroidetes": D_BACTERO, "Chloroflexi": D_CHLORO, "Firmicutes": D_FIRMI,
          "Gemmatimonadetes": D_GEMMA, "Planctomycetes": D_PLANCTO, "Proteobacteria": D_PROTEO,
          "Verrucomicrobia": D_VERRUCO, "w< 0.1% abundance": D_OTHER}

layers_b = bars_panel(B_DAYS, B_TYPE, B_TREAT, B_VALS, 0, 573, "B", -72, "Relative Abundance")
layers_d = bars_panel(D_DAYS, D_TYPE, D_TREAT, D_VALS, 615, 598, "D", 585, None)
row2 = alt.layer(*layers_b, *layers_d).resolve_scale(x="independent", y="independent").properties(
    width=ROW2_W, height=ROW2_H)

# ---------------- row 3: phylum legend + caption + frame
PX = alt.Scale(domain=[0, ROW3_W], range=[0, ROW3_W], nice=False, zero=False)
PY = alt.Scale(domain=[0, ROW3_H], range=[0, ROW3_H], nice=False, zero=False)
COL_X = [149, 272, 402, 504, 613, 760, 881, 1008]
ROW_Y = [23, 48]
sw_rows = []
for i, (p, c) in enumerate(zip(PHYLA, PHYLA_COLORS)):
    sw_rows.append({"px": COL_X[i // 2], "py": ROW_Y[i % 2], "lx": COL_X[i // 2] + 17, "t": p, "col": c})
sw_df = pd.DataFrame(sw_rows)
swatches = alt.Chart(sw_df).mark_square(size=400, opacity=1, strokeWidth=0).encode(
    x=alt.X("px:Q", scale=PX, axis=None), y=alt.Y("py:Q", scale=PY, axis=None), color=alt.Color("col:N", scale=None))
sw_labels = alt.Chart(sw_df).mark_text(align="left", baseline="middle", fontSize=12, font="Liberation Sans",
                                       color="#1A1A1A").encode(
    x=alt.X("lx:Q", scale=PX, axis=None), y=alt.Y("py:Q", scale=PY, axis=None), text="t:N")
ph_title = alt.Chart(pd.DataFrame({"t": ["Phylum"], "px": [79], "py": [30]})).mark_text(
    align="left", baseline="middle", fontSize=14.5, font="Liberation Sans", color="#1A1A1A").encode(
    x=alt.X("px:Q", scale=PX, axis=None), y=alt.Y("py:Q", scale=PY, axis=None), text="t:N")

# Arial / Liberation Sans advance widths (1/1000 em) used to place the bold caption pieces
W_REG = {" ": 278, "(": 333, ")": 333, ".": 278, ",": 278, "|": 260, "-": 333, "%": 889, "<": 584,
         "\u2018": 222, "\u2019": 222, "c": 500, "f": 278, "i": 222, "j": 222, "k": 500, "l": 222,
         "m": 833, "r": 333, "s": 500, "t": 278, "v": 500, "w": 722, "x": 500, "y": 500, "z": 500,
         "A": 667, "B": 667, "C": 722, "D": 722, "E": 667, "F": 611, "G": 778, "H": 722, "I": 278,
         "O": 778, "P": 667, "R": 722, "S": 667, "T": 611, "U": 722}
W_BOLD = {" ": 278, "(": 333, ")": 333, "3": 556, "A": 722, "B": 722, "C": 722, "D": 722, "E": 667,
          "F": 611, "G": 778, "I": 278, "R": 722, "U": 722}


def em(s, table):
    return sum(table.get(ch, 556) for ch in s) / 1000.0


CAP_X0 = -91
CAP_LINE1_PX = 1248
CAP_FS = CAP_LINE1_PX / sum(em(s, W_BOLD if b else W_REG) for s, b in CAP_LINES[0])
CAP_BASE = [113, 138, 163, 187]
reg_rows, bold_rows = [], []
for li, line in enumerate(CAP_LINES):
    cur = CAP_X0
    for s, b in line:
        tab = W_BOLD if b else W_REG
        lead = len(s) - len(s.lstrip(" "))
        xpos = cur + em(s[:lead], tab) * CAP_FS
        (bold_rows if b else reg_rows).append({"px": xpos, "py": CAP_BASE[li], "t": s.strip()})
        cur += em(s, tab) * CAP_FS
cap_reg = alt.Chart(pd.DataFrame(reg_rows)).mark_text(
    align="left", baseline="alphabetic", fontSize=CAP_FS, font="Liberation Sans", color="#222222").encode(
    x=alt.X("px:Q", scale=PX, axis=None), y=alt.Y("py:Q", scale=PY, axis=None), text="t:N")
cap_bold = alt.Chart(pd.DataFrame(bold_rows)).mark_text(
    align="left", baseline="alphabetic", fontSize=CAP_FS, fontWeight="bold", font="Liberation Sans",
    color="#111111").encode(
    x=alt.X("px:Q", scale=PX, axis=None), y=alt.Y("py:Q", scale=PY, axis=None), text="t:N")

# figure frame: top and left edges (the right/bottom edges fall outside the page)
FR_L, FR_R, FR_T, FR_B = -105.5, 1230, -833.5, 189
frame_v = alt.Chart(pd.DataFrame({"x": [FR_L], "a": [FR_T], "b": [FR_B]})).mark_rule(
    color="#8A8A8A", strokeWidth=1).encode(
    x=alt.X("x:Q", scale=PX, axis=None), y=alt.Y("a:Q", scale=PY, axis=None), y2="b:Q")
frame_h = alt.Chart(pd.DataFrame({"a": [FR_L], "b": [FR_R], "y": [FR_T]})).mark_rule(
    color="#8A8A8A", strokeWidth=1).encode(
    x=alt.X("a:Q", scale=PX, axis=None), x2="b:Q", y=alt.Y("y:Q", scale=PY, axis=None))

row3 = alt.layer(frame_v, frame_h, ph_title, swatches, sw_labels, cap_reg, cap_bold).properties(
    width=ROW3_W, height=ROW3_H)

chart = alt.vconcat(row1, row2, row3, spacing=60, bounds="flush").properties(
    padding={"left": 1, "top": 1, "right": 0, "bottom": 0}, background="white"
).configure_view(stroke="transparent", strokeWidth=0).configure_axis(
    labelFont="Liberation Sans", titleFont="Liberation Sans")

chart.save("out.html", embed_options={"renderer": "svg", "actions": False})
